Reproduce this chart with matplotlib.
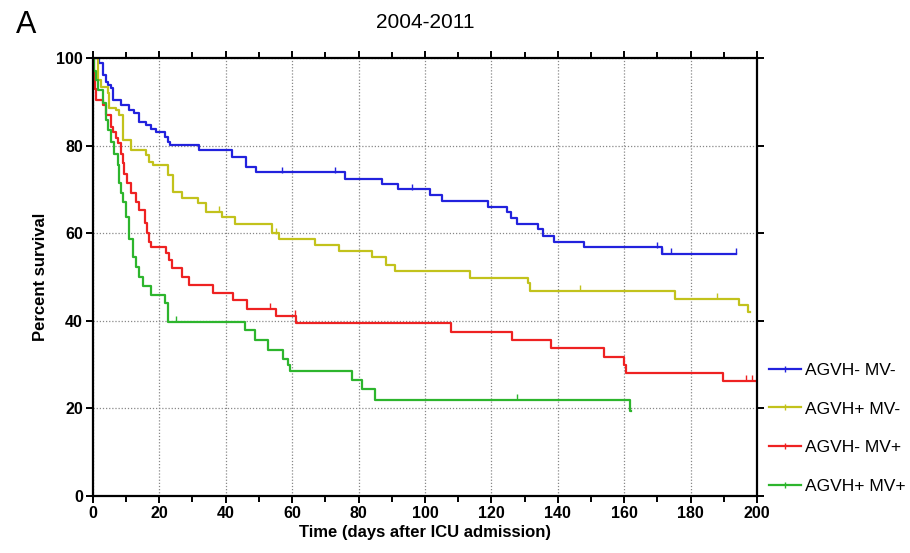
import matplotlib
matplotlib.use("Agg")
import matplotlib.pyplot as plt
from matplotlib.lines import Line2D

plt.rcParams['font.family'] = ['Liberation Sans', 'DejaVu Sans']

# Kaplan-Meier curves: step times (days) and percent survival after each step
labels = ['AGVH- MV-', 'AGVH+ MV-', 'AGVH- MV+', 'AGVH+ MV+']
colors = ['#2222dd', '#c2c21c', '#ee2222', '#2db52d']

blue_t = [0, 2, 3, 4, 4.5, 5.5, 6, 8.5, 11, 12.5, 14, 16, 17.6, 19, 21.6, 22.6, 23.1,
          32, 42, 46, 49, 76, 87, 92, 101.5, 105, 119, 124.6, 126, 127.6, 134,
          135.6, 138.9, 147.9, 171.5, 193.7]
blue_s = [100, 98.8, 96.1, 94.6, 93.8, 93.1, 90.4, 89.3, 88.1, 87.4, 85.5, 84.7, 83.9,
          83.2, 82.0, 80.9, 80.1, 79.0, 77.5, 75.1, 73.9, 72.5, 71.3, 70.0, 68.7,
          67.4, 66.1, 64.9, 63.4, 62.1, 60.9, 59.4, 58.1, 56.8, 55.3, 55.3]
blue_cens = [57, 73, 96, 170, 171.5, 174, 193.7]

yellow_t = [0, 1.5, 2.5, 4.5, 5, 7, 8, 9, 11.5, 16, 17, 18, 22.6, 24, 26.7, 31.7, 34,
            39, 42.8, 53.8, 56, 67, 74, 84, 88.4, 91, 113.6, 131, 131.6, 175.3,
            194.4, 197.4, 198]
yellow_s = [100, 95.0, 93.5, 92.0, 88.5, 88.1, 87.0, 81.3, 79.0, 77.9, 76.3, 75.6, 73.3,
            69.5, 68.0, 66.8, 64.9, 63.8, 62.1, 60.0, 58.8, 57.4, 56.0, 54.6, 52.8,
            51.4, 49.8, 48.6, 46.8, 45.1, 43.6, 42.1, 42.1]
yellow_cens = [38, 55, 146.7, 188]

red_t = [0, 0.3, 0.6, 1, 3, 4, 5.5, 6, 7, 7.5, 8.5, 9, 9.5, 10.3, 11.5, 13, 14, 15.6,
         16.4, 17, 17.6, 22, 23, 23.7, 26.7, 29, 36.2, 42.3, 46.3, 55.3, 61.3,
         107.7, 126.1, 137.9, 153.9, 159.9, 160.5, 189.7, 200]
red_s = [100, 97, 93, 90.4, 89.3, 87.0, 84.3, 83.2, 81.8, 80.5, 78.2, 76.0, 73.6, 71.4,
         69.1, 67.2, 65.3, 62.3, 60.0, 58.1, 56.8, 55.4, 53.9, 52.0, 50.1, 48.2,
         46.4, 44.7, 42.8, 41.1, 39.6, 37.5, 35.6, 33.7, 31.8, 29.9, 28.0, 26.3, 26.3]
red_cens = [53.3, 60.8, 196.7, 198.4]

green_t = [0, 0.5, 1, 1.5, 3, 4, 4.7, 5.5, 6.5, 7.5, 8, 8.5, 9, 10, 11, 12, 13, 14, 15,
           17.6, 21.6, 22.6, 45.8, 48.8, 52.8, 57.3, 58.8, 59.5, 77.9, 80.9, 84.9,
           161.7, 162]
green_s = [100, 97, 95, 92.7, 89.7, 85.8, 83.6, 80.9, 78.2, 75.6, 71.4, 69.1, 67.2, 63.8,
           58.8, 54.6, 52.4, 50.1, 47.9, 45.9, 44.0, 39.8, 37.9, 35.6, 33.3, 31.4,
           29.9, 28.6, 26.5, 24.4, 21.9, 19.5, 19.5]
green_cens = [25, 127.8]

series = [(blue_t, blue_s, blue_cens), (yellow_t, yellow_s, yellow_cens),
          (red_t, red_s, red_cens), (green_t, green_s, green_cens)]


def surv_at(times, surv, t):
    val = surv[0]
    for ti, si in zip(times, surv):
        if ti <= t:
            val = si
    return val


fig = plt.figure(figsize=(9.10, 5.53), dpi=100)
ax = fig.add_axes([0.102, 0.103, 0.730, 0.792])

for (t, s, cens), c in zip(series, colors):
    ax.step(t, s, where='post', color=c, lw=1.6, zorder=3)
    cy = [surv_at(t, s, x) + 0.6 for x in cens]
    ax.plot(cens, cy, ls='none', marker='|', ms=5, mew=1.0, color=c, zorder=4)

ax.set_xlim(0, 200)
ax.set_ylim(0, 100)
ax.set_xticks(range(0, 201, 20))
ax.set_xticks(range(10, 200, 20), minor=True)
ax.set_yticks(range(0, 101, 20))

ax.grid(True, which='major', ls=(0, (1, 1.5)), color='#888888', lw=0.9, zorder=1)
for sp in ax.spines.values():
    sp.set_linewidth(1.6)
    sp.set_zorder(5)

ax.tick_params(which='both', direction='out', top=True, right=True, width=1.4,
               labelsize=11.5, pad=2)
ax.tick_params(which='major', length=5)
ax.tick_params(which='minor', length=4)
for lab in ax.get_xticklabels() + ax.get_yticklabels():
    lab.set_fontweight('bold')

ax.set_xlabel('Time (days after ICU admission)', fontsize=12, fontweight='bold', labelpad=3)
ax.set_ylabel('Percent survival', fontsize=12, fontweight='bold', labelpad=6)
ax.set_title('2004-2011', fontsize=15, pad=22)
fig.text(0.018, 0.94, 'A', fontsize=22)

handles = [Line2D([0], [0], color=c, lw=1.6, marker='|', ms=5, mew=1.0) for c in colors]
ax.legend(handles, labels, loc='upper left', bbox_to_anchor=(1.008, 0.32),
          frameon=False, fontsize=12.5, handlelength=1.85, handletextpad=0.2,
          labelspacing=1.35, borderaxespad=0, numpoints=1)

fig.savefig('out.png', dpi=100)
